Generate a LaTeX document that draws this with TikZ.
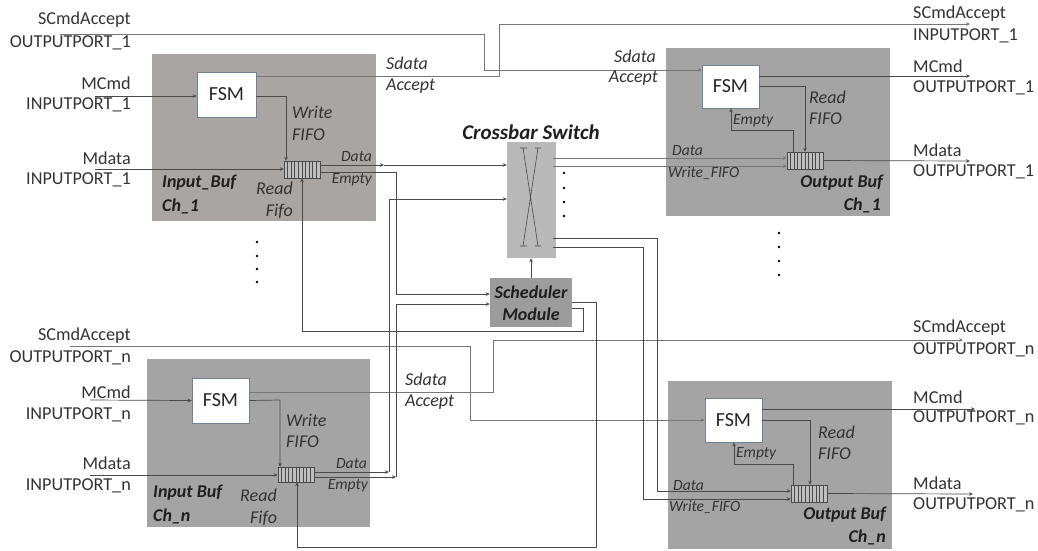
\documentclass[tikz,border=0pt]{standalone}
\usepackage{fontspec}
\setmainfont{Carlito}
\usetikzlibrary{arrows.meta}
\definecolor{boxa}{HTML}{A9A5A3}
\definecolor{boxb}{HTML}{A4A4A4}
\definecolor{xbar}{HTML}{B9B9B9}
\definecolor{sched}{HTML}{9C9C9C}
\definecolor{ink}{HTML}{4A4A4A}
\definecolor{txt}{HTML}{333333}
\definecolor{fsmedge}{HTML}{6E8296}
\tikzset{
  panel/.style={rectangle,inner sep=0pt,draw=none},
  fsmbox/.style={rectangle,inner sep=0pt,fill=white,draw=fsmedge,line width=.7pt,text=black!85,font=\fontsize{20}{20}\selectfont},
  fifobox/.style={rectangle,inner sep=0pt,minimum width=36pt,fill=boxb!70!white,draw=ink,line width=.5pt},
  port/.style={inner sep=0pt,text=txt,font=\fontsize{18.2}{18}\selectfont},
  lab/.style={inner sep=0pt,text=txt,font=\fontsize{18}{18}\itshape\selectfont},
  small/.style={inner sep=0pt,text=txt,font=\fontsize{15.6}{16}\itshape\selectfont},
  title/.style={inner sep=0pt,text=black!88,font=\fontsize{18}{18}\bfseries\itshape\selectfont},
  conn/.style={draw=ink,line width=.7pt,-{Stealth[length=4pt,width=3.6pt]}},
  wire/.style={draw=ink!75,line width=.9pt,-{Stealth[length=4pt,width=3.6pt]}},
  dotmark/.style={circle,fill=black,inner sep=0pt,minimum size=2.6pt},
}
\newcommand{\fifolines}[1]{\foreach \i in {1,...,9}{\draw[ink,line width=.45pt] ([xshift=\i*3.6pt]#1.north west) -- ([xshift=\i*3.6pt]#1.south west);}}
\begin{document}
\begin{tikzpicture}[x=1pt,y=-1pt]
\useasboundingbox (0,0) rectangle (1038,550);
% panels
\node[panel,fill=boxa,minimum width=224pt,minimum height=167pt] (panelA) at (264,137.5) {};
\node[panel,fill=boxb,minimum width=223pt,minimum height=168pt] (panelN) at (258.5,443) {};
\node[panel,fill=boxb,minimum width=224pt,minimum height=168pt] (panelB) at (778,132) {};
\node[panel,fill=boxb,minimum width=224pt,minimum height=168pt] (panelC) at (780,465) {};
\node[panel,fill=xbar,minimum width=49pt,minimum height=116pt] (xbar) at (531.5,200) {};
\node[panel,fill=sched,minimum width=82pt,minimum height=49pt] (sched) at (531,302.5) {};
% crossbar symbol
\draw[ink,line width=.6pt] (520,148)--(527,148) (523,148)--(538,246) (535,246)--(541,246)
  (535,148)--(541,148) (538,148)--(523,246) (520,246)--(527,246);
% FSMs
\node[fsmbox,minimum width=59pt,minimum height=45pt] (fsmA) at (226.5,94.5) {FSM};
\node[fsmbox,minimum width=57pt,minimum height=45pt] (fsmN) at (220.5,400.5) {FSM};
\node[fsmbox,minimum width=57pt,minimum height=43pt] (fsmB) at (730.5,86.5) {FSM};
\node[fsmbox,minimum width=57pt,minimum height=44pt] (fsmC) at (733.5,420) {FSM};
% FIFOs
\node[fifobox,minimum height=17pt] (fifoA) at (302,169.5) {};
\node[fifobox,minimum height=15pt] (fifoN) at (296,474.5) {};
\node[fifobox,minimum height=17pt] (fifoB) at (805,160.5) {};
\node[fifobox,minimum height=17pt] (fifoC) at (809,493.5) {};
\fifolines{fifoA}\fifolines{fifoN}\fifolines{fifoB}\fifolines{fifoC}
% free ends
\coordinate (sAin) at (60,34);
\coordinate (sNin) at (70,346);
\coordinate (mcA) at (95,96);
\coordinate (mdA) at (95,169);
\coordinate (mcN) at (90,400);
\coordinate (mdN) at (90,475);
\coordinate (sAout) at (970,24);
\coordinate (sNout) at (963,340);
\coordinate (mcB) at (970,76);
\coordinate (mdB) at (970,161);
\coordinate (mcC) at (975,409);
\coordinate (mdC) at (973,494);
\coordinate (tapA) at (384,165);
% left inputs
\draw[conn] (mcA) -- ([yshift=-1.5pt]fsmA.west);
\draw[conn] (mdA) -- ([yshift=.5pt]fifoA.west);
\draw[conn] (mcN) -- (fsmN.west);
\draw[conn] (mdN) -- ([yshift=-.5pt]fifoN.west);
\draw[conn] ([yshift=-1.5pt]fsmA.east) -- (286,96) -- ([xshift=-16pt]fifoA.north);
\draw[conn] (fsmN.east) -- (280,400) -- ([xshift=-16pt]fifoN.north);
% cross-over wires
\draw[wire] (sAin) -- (484,34) -- (484,70) -- ([yshift=16.5pt]fsmB.west);
\draw[wire] ([yshift=18.5pt]fsmA.east) -- (499,76) -- (499,24) -- (sAout);
\draw[wire] (sNin) -- (470,346) -- (470,420) -- (fsmC.west);
\draw[wire] ([yshift=8.5pt]fsmN.east) -- (493,392) -- (493,340) -- (sNout);
% FIFO A data and empty
\draw[conn] ([yshift=4.5pt]fifoA.east) -- (tapA);
\draw[conn] (tapA) -- ([yshift=35pt]xbar.west);
\draw[conn] ([yshift=-2.5pt]fifoA.east) -- (396,172) -- (396,294) -- ([yshift=8.5pt]sched.west);
% FIFO N data and empty
\draw[conn] ([yshift=2.5pt]fifoN.east) -- (389,472);
\draw[conn] (389,472) -- (389,199) -- ([yshift=1pt]xbar.west);
\draw[conn] ([yshift=-2.5pt]fifoN.east) -- (396,477);
\draw[conn] (396,477) -- (396,304) -- ([yshift=-1.5pt]sched.west);
% scheduler
\draw[conn] (sched.north) -- (sched.north |- xbar.south);
\draw[conn] ([yshift=-5.5pt]sched.east) -- (583,308) -- (583,331) -- (302,331) -- (fifoA.south);
\draw[conn] ([yshift=.5pt]sched.east) -- (596,302) -- (596,547) -- (297,547) -- ([xshift=1pt]fifoN.south);
% crossbar outputs
\draw[wire] ([xshift=-3pt,yshift=42pt]xbar.east) -- ([yshift=2.5pt]fifoB.west);
\draw[wire] ([xshift=-3pt,yshift=34pt]xbar.east) -- ([yshift=-5.5pt]fifoB.west);
\draw[conn] ([xshift=-3pt,yshift=-38pt]xbar.east) -- (657,238) -- (657,491) -- ([yshift=2.5pt]fifoC.west);
\draw[conn] ([xshift=-3pt,yshift=-47pt]xbar.east) -- (643,247) -- (643,499) -- ([yshift=-5.5pt]fifoC.west);
% output FSMs
\draw[conn] ([yshift=10.5pt]fsmB.east) -- (mcB);
\draw[conn] (fsmB.east) -- (805,86.5) -- (fifoB.north);
\draw[conn] ([xshift=-12pt]fifoB.north) -- (793,130) -- (731,130) -- ([xshift=.5pt]fsmB.south);
\draw[conn] (fifoB.east) -- (mdB);
\draw[conn] ([yshift=11pt]fsmC.east) -- (mcC);
\draw[conn] (fsmC.east) -- (810,420) -- ([xshift=1pt]fifoC.north);
\draw[conn] ([xshift=-16pt]fifoC.north) -- (793,464) -- (734,464) -- ([xshift=.5pt]fsmC.south);
\draw[conn] (fifoC.east) -- (mdC);
% port labels left
\node[port,anchor=east] (l1) at (131,20) {SCmdAccept};
\node[port,anchor=east] (l2) at (131,43) {OUTPUTPORT\_1};
\node[port,anchor=east] (l3) at (131,83) {MCmd};
\node[port,anchor=east] (l4) at (131,105) {INPUTPORT\_1};
\node[port,anchor=east] (l5) at (131,158) {Mdata};
\node[port,anchor=east] (l6) at (131,180) {INPUTPORT\_1};
\node[port,anchor=east] (l7) at (131,336) {SCmdAccept};
\node[port,anchor=east] (l8) at (131,358) {OUTPUTPORT\_n};
\node[port,anchor=east] (l9) at (131,392) {MCmd};
\node[port,anchor=east] (l10) at (131,415) {INPUTPORT\_n};
\node[port,anchor=east] (l11) at (131,463) {Mdata};
\node[port,anchor=east] (l12) at (131,486) {INPUTPORT\_n};
% port labels right
\node[port,anchor=west] (r1) at (913,14) {SCmdAccept};
\node[port,anchor=west] (r2) at (913,36) {INPUTPORT\_1};
\node[port,anchor=west] (r3) at (913,66) {MCmd};
\node[port,anchor=west] (r4) at (913,88) {OUTPUTPORT\_1};
\node[port,anchor=west] (r5) at (913,150) {Mdata};
\node[port,anchor=west] (r6) at (913,172) {OUTPUTPORT\_1};
\node[port,anchor=west] (r7) at (913,328) {SCmdAccept};
\node[port,anchor=west] (r8) at (913,350) {OUTPUTPORT\_n};
\node[port,anchor=west] (r9) at (913,397) {MCmd};
\node[port,anchor=west] (r10) at (913,418) {OUTPUTPORT\_n};
\node[port,anchor=west] (r11) at (913,483) {Mdata};
\node[port,anchor=west] (r12) at (913,505) {OUTPUTPORT\_n};
% titles
\node[title,font=\fontsize{21}{21}\bfseries\itshape\selectfont] (tx) at (531,132) {Crossbar Switch};
\node[title] (ts1) at (531,292) {Scheduler};
\node[title] (ts2) at (531,314) {Module};
\node[title,anchor=west] (ta1) at (162,183) {Input\_Buf};
\node[title,anchor=west] (ta2) at (162,206) {Ch\_1};
\node[title,anchor=west] (tn1) at (153,493) {Input Buf};
\node[title,anchor=west] (tn2) at (153,516) {Ch\_n};
\node[title,anchor=east] (tb1) at (883,183) {Output Buf};
\node[title,anchor=east] (tb2) at (881,205) {Ch\_1};
\node[title,anchor=east] (tc1) at (886,515) {Output Buf};
\node[title,anchor=east] (tc2) at (886,537) {Ch\_n};
% italic labels, input 1
\node[lab,anchor=west] (a1) at (386,63) {Sdata};
\node[lab,anchor=west] (a2) at (386,86) {Accept};
\node[lab,anchor=west] (a3) at (292,112) {Write};
\node[lab,anchor=west] (a4) at (292,135) {FIFO};
\node[lab,anchor=east] (a5) at (293,188) {Read};
\node[lab,anchor=east] (a6) at (293,211) {Fifo};
\node[small,anchor=east] (a7) at (372,157) {Data};
\node[small,anchor=east] (a8) at (372,180) {Empty};
% input n
\node[lab,anchor=west] (n1) at (405,379) {Sdata};
\node[lab,anchor=west] (n2) at (405,402) {Accept};
\node[lab,anchor=west] (n3) at (286,420) {Write};
\node[lab,anchor=west] (n4) at (286,442) {FIFO};
\node[lab,anchor=west] (n5) at (240,495) {Read};
\node[lab,anchor=west] (n6) at (250,518) {Fifo};
\node[small,anchor=east] (n7) at (367,464) {Data};
\node[small,anchor=east] (n8) at (368,486) {Empty};
% output 1
\node[lab,anchor=east] (b1) at (656,56) {Sdata};
\node[lab,anchor=east] (b2) at (658,78) {Accept};
\node[lab,anchor=west] (b3) at (809,97) {Read};
\node[lab,anchor=west] (b4) at (809,119) {FIFO};
\node[small,anchor=west] (b5) at (733,121) {Empty};
\node[small,anchor=west] (b6) at (672,151) {Data};
\node[small,anchor=west] (b7) at (668,173) {Write\_FIFO};
% output n
\node[lab,anchor=west] (c1) at (818,432) {Read};
\node[lab,anchor=west] (c2) at (818,454) {FIFO};
\node[small,anchor=west] (c3) at (736,454) {Empty};
\node[small,anchor=west] (c4) at (673,486) {Data};
\node[small,anchor=west] (c5) at (669,507) {Write\_FIFO};
% ellipsis dots
\foreach \n/\px/\py in {a/257/242,b/257/256,c/257/269,d/257/282,e/564/173,f/564/188,g/564/202,h/564/216,i/779/233,j/779/247,k/779/261,m/779/275}
  \node[dotmark] (dot\n) at (\px,\py) {};
\end{tikzpicture}
\end{document}
